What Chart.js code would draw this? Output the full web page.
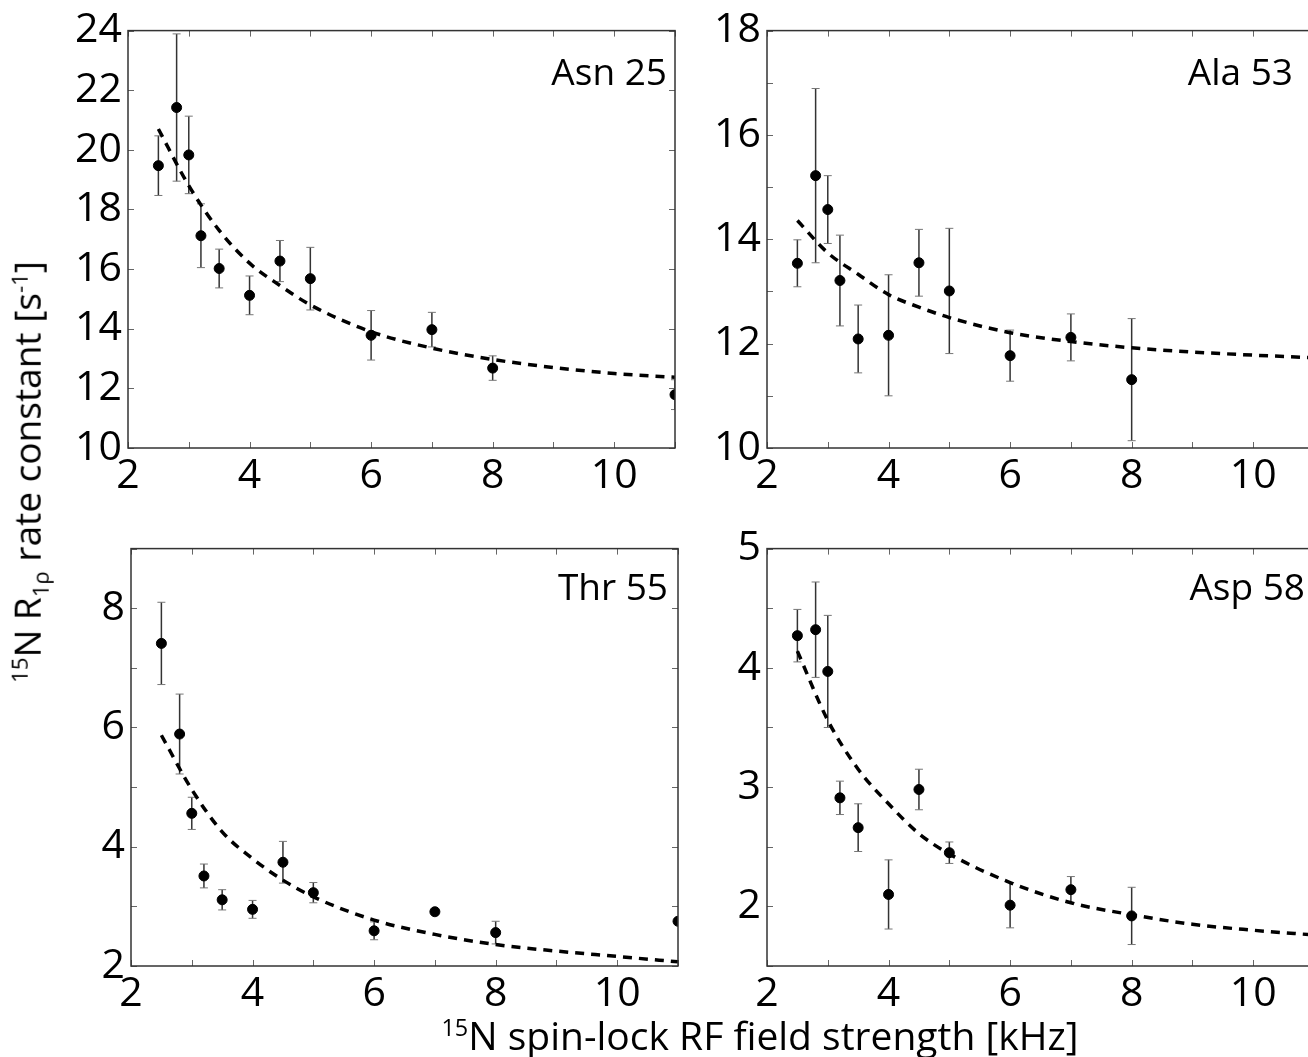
<!DOCTYPE html>
<html>
<head>
<meta charset="utf-8">
<script src="https://cdn.jsdelivr.net/npm/chart.js@4.4.1/dist/chart.umd.min.js"></script>
<style>
  html, body { margin: 0; padding: 0; background: #fff; }
  body { width: 1308px; height: 1057px; overflow: hidden; position: relative; font-family: 'Open Sans', sans-serif; }
  canvas { position: absolute; }
  .title { position: absolute; white-space: nowrap; color: #000; line-height: 1; }
  .title sup, .title sub { font-size: 0.6em; }
  #ytitle { font-size: 37px; left: 30px; top: 472px; transform: translate(-50%, -50%) rotate(-90deg); }
  #xtitle { font-size: 39px; left: 760px; top: 1034px; transform: translate(-50%, -50%); }
</style>
</head>
<body>
<canvas id="asn25"></canvas>
<canvas id="ala53"></canvas>
<canvas id="thr55"></canvas>
<canvas id="asp58"></canvas>
<div class="title" id="ytitle"><sup>15</sup>N R<sub>1ρ</sub> rate constant [s<sup>-1</sup>]</div>
<div class="title" id="xtitle"><sup>15</sup>N spin-lock RF field strength [kHz]</div>
<script>
// spin-lock field strengths (kHz)
const fieldKHz = [2.5, 2.8, 3.0, 3.2, 3.5, 4.0, 4.5, 5.0, 6.0, 7.0, 8.0, 11.0];
const fitKHz = [2.5, 3, 3.5, 4, 4.5, 5, 6, 7, 8, 9, 10, 11];

// measured R1rho (s^-1) with errors
const asn25R = [19.47, 21.42, 19.83, 17.12, 16.02, 15.12, 16.27, 15.68, 13.78, 13.97, 12.68, 11.79];
const asn25Err = [1.0, 2.47, 1.3, 1.07, 0.65, 0.65, 0.69, 1.05, 0.83, 0.58, 0.41, 0.5];
const ala53R = [13.54, 15.22, 14.57, 13.21, 12.09, 12.16, 13.55, 13.01, 11.77, 12.12, 11.31];
const ala53Err = [0.45, 1.67, 0.65, 0.87, 0.65, 1.16, 0.64, 1.2, 0.49, 0.45, 1.17];
const thr55R = [7.41, 5.89, 4.56, 3.51, 3.11, 2.95, 3.74, 3.23, 2.59, 2.91, 2.56, 2.75];
const thr55Err = [0.69, 0.67, 0.27, 0.2, 0.17, 0.15, 0.35, 0.17, 0.15, 0.03, 0.19, 0.05];
const asp58R = [4.27, 4.32, 3.97, 2.91, 2.66, 2.10, 2.98, 2.45, 2.01, 2.14, 1.92];
const asp58Err = [0.22, 0.4, 0.47, 0.14, 0.2, 0.29, 0.17, 0.09, 0.19, 0.11, 0.24];

// fitted curves
const asn25Fit = [20.7, 18.8, 17.3, 16.2, 15.45, 14.8, 13.9, 13.35, 12.97, 12.7, 12.5, 12.37];
const ala53Fit = [14.36, 13.74, 13.33, 12.94, 12.70, 12.5, 12.21, 12.04, 11.92, 11.84, 11.78, 11.73];
const thr55Fit = [5.87, 4.96, 4.25, 3.80, 3.44, 3.16, 2.77, 2.53, 2.36, 2.25, 2.16, 2.07];
const asp58Fit = [4.14, 3.56, 3.15, 2.86, 2.61, 2.44, 2.20, 2.03, 1.93, 1.85, 1.80, 1.76];

// tick labels
const xTickLabels = [2, 4, 6, 8, 10];
const asn25YLabels = [10, 12, 14, 16, 18, 20, 22, 24];
const ala53YLabels = [10, 12, 14, 16, 18];
const thr55YLabels = [2, 4, 6, 8];
const asp58YLabels = [2, 3, 4, 5];

const FONT = "'Open Sans', sans-serif";
const Y_W = 80, X_H = 60, PAD_T = 24, PAD_R = 20;

const boxPlugin = {
    id: 'box',
    beforeDatasetsDraw(chart) {
        const ctx = chart.ctx, a = chart.chartArea;
        const xs = chart.scales.x, ys = chart.scales.y;
        const pts = chart.data.datasets[1].data;
        const err = chart.options.plugins.box.err;
        ctx.save();
        ctx.beginPath();
        ctx.rect(a.left, a.top, a.right - a.left, a.bottom - a.top);
        ctx.clip();
        pts.forEach((p, i) => {
            const x = xs.getPixelForValue(p.x);
            const y1 = ys.getPixelForValue(p.y + err[i]);
            const y2 = ys.getPixelForValue(p.y - err[i]);
            ctx.strokeStyle = '#333';
            ctx.lineWidth = 1.5;
            ctx.beginPath();
            ctx.moveTo(x, y1);
            ctx.lineTo(x, y2);
            ctx.stroke();
            ctx.strokeStyle = '#777';
            ctx.lineWidth = 1;
            ctx.beginPath();
            ctx.moveTo(x - 4, y1); ctx.lineTo(x + 4, y1);
            ctx.moveTo(x - 4, y2); ctx.lineTo(x + 4, y2);
            ctx.stroke();
        });
        ctx.restore();
    },
    afterDraw(chart) {
        const ctx = chart.ctx, a = chart.chartArea;
        const xs = chart.scales.x, ys = chart.scales.y;
        const o = chart.options.plugins.box;
        ctx.save();
        ctx.strokeStyle = '#666';
        ctx.lineWidth = 1;
        ctx.beginPath();
        xs.ticks.forEach(t => {
            const x = Math.round(xs.getPixelForValue(t.value)) + 0.5;
            ctx.moveTo(x, a.bottom); ctx.lineTo(x, a.bottom - 6);
            ctx.moveTo(x, a.top); ctx.lineTo(x, a.top + 6);
        });
        ys.ticks.forEach(t => {
            const y = Math.round(ys.getPixelForValue(t.value)) + 0.5;
            ctx.moveTo(a.left, y); ctx.lineTo(a.left + 6, y);
            ctx.moveTo(a.right, y); ctx.lineTo(a.right - 6, y);
        });
        ctx.stroke();
        ctx.strokeStyle = '#333';
        ctx.lineWidth = 1.5;
        ctx.strokeRect(a.left, a.top, a.right - a.left, a.bottom - a.top);
        ctx.fillStyle = '#000';
        ctx.font = '37px ' + FONT;
        ctx.textAlign = 'right';
        ctx.textBaseline = 'alphabetic';
        ctx.fillText(o.name, a.right - o.nameRight, a.top + o.nameBase);
        ctx.restore();
    }
};

function makePanel(id, left, top, name, nameRight, nameBase, rates, errs, fit, yMin, yMax, yStep, yLabels) {
    const cv = document.getElementById(id);
    const w = Y_W + 547 + PAD_R, h = PAD_T + 424 + X_H;
    cv.width = w; cv.height = h;
    cv.style.width = w + 'px'; cv.style.height = h + 'px';
    cv.style.left = (left - Y_W) + 'px';
    cv.style.top = (top - PAD_T) + 'px';
    new Chart(cv, {
        type: 'scatter',
        data: {
            datasets: [
                {
                    type: 'line',
                    data: fitKHz.map((x, i) => ({ x: x, y: fit[i] })),
                    borderColor: '#000',
                    borderWidth: 3.5,
                    borderDash: [9, 7],
                    pointRadius: 0,
                    cubicInterpolationMode: 'monotone',
                    fill: false
                },
                {
                    data: rates.map((y, i) => ({ x: fieldKHz[i], y: y })),
                    backgroundColor: '#000',
                    borderColor: '#000',
                    pointRadius: 5,
                    pointHoverRadius: 5
                }
            ]
        },
        options: {
            responsive: false,
            animation: false,
            events: [],
            layout: { padding: { top: PAD_T, right: PAD_R, left: 0, bottom: 0 } },
            plugins: {
                legend: { display: false },
                tooltip: { enabled: false },
                box: { err: errs, name: name, nameRight: nameRight, nameBase: nameBase }
            },
            scales: {
                x: {
                    type: 'linear', min: 2, max: 11,
                    grid: { display: false, drawTicks: false },
                    border: { display: false },
                    ticks: {
                        stepSize: 1, autoSkip: false, maxRotation: 0, padding: 4,
                        color: '#000', font: { family: FONT, size: 41 },
                        callback: v => xTickLabels.includes(v) ? String(v) : ''
                    },
                    afterFit(s) { s.height = X_H; }
                },
                y: {
                    type: 'linear', min: yMin, max: yMax,
                    grid: { display: false, drawTicks: false },
                    border: { display: false },
                    ticks: {
                        stepSize: yStep, autoSkip: false, padding: 6,
                        color: '#000', font: { family: FONT, size: 41 },
                        callback: v => yLabels.includes(v) ? String(v) : ''
                    },
                    afterFit(s) { s.width = Y_W; }
                }
            }
        },
        plugins: [boxPlugin]
    });
}

makePanel('asn25', 128, 24, 'Asn 25', 8, 54, asn25R, asn25Err, asn25Fit, 10, 24, 2, asn25YLabels);
makePanel('ala53', 767, 24, 'Ala 53', 21, 54, ala53R, ala53Err, ala53Fit, 10, 18, 1, ala53YLabels);
makePanel('thr55', 131, 542, 'Thr 55', 10, 51, thr55R, thr55Err, thr55Fit, 2, 9, 1, thr55YLabels);
makePanel('asp58', 767, 542, 'Asp 58', 9, 51, asp58R, asp58Err, asp58Fit, 1.5, 5, 0.5, asp58YLabels);
</script>
</body>
</html>
